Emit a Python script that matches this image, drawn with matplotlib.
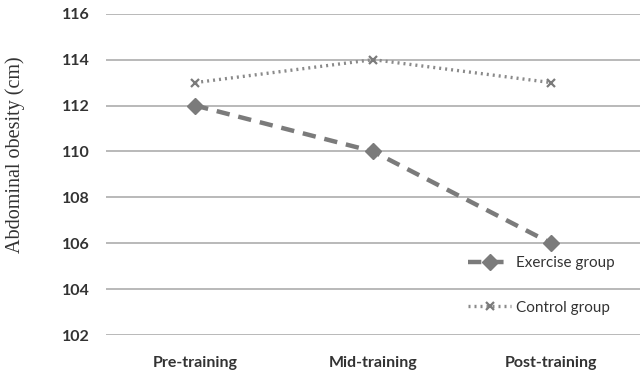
import matplotlib.pyplot as plt

# group means of waist circumference at each stage
stages = ["Pre-training", "Mid-training", "Post-training"]
exercise_group = [112, 110, 106]
control_group = [113, 114, 113]
y_ticks = [102, 104, 106, 108, 110, 112, 114, 116]

fig = plt.figure(figsize=(6.4, 3.82), dpi=100)
ax = fig.add_axes([0.166, 0.123, 0.834, 0.841])

x = range(len(stages))
ax.plot(x, exercise_group, color="#7b7b7b", lw=3.2, ls=(0, (3, 2)),
        marker="D", ms=8, mfc="#7b7b7b", mec="#7b7b7b", label="Exercise group")
ax.plot(x, control_group, color="#8a8a8a", lw=2.4, ls=(0, (0.6, 1.2)),
        marker="x", ms=6, mew=1.6, mec="#7b7b7b", label="Control group")

ax.set_xlim(-0.5, 2.5)
ax.set_ylim(102, 116)
ax.set_yticks(y_ticks)
ax.set_xticks(list(x))
ax.set_xticklabels(stages)
ax.grid(axis="y", color="#a6a6a6", lw=1.1)
ax.set_axisbelow(True)
for s in ax.spines.values():
    s.set_visible(False)
ax.tick_params(axis="y", length=0, pad=12, labelcolor="#333333")
ax.tick_params(axis="x", length=0, pad=15, labelcolor="#333333")
for lab in ax.get_xticklabels() + ax.get_yticklabels():
    lab.set_fontfamily("Lato")
    lab.set_fontweight("bold")
    lab.set_fontsize(11.5)

ax.set_ylabel("Abdominal obesity (cm)", family="Liberation Serif", fontsize=14.5,
              color="#333333")
ax.yaxis.set_label_coords(-0.152, 0.561)

leg = ax.legend(loc="lower right", frameon=False, prop={"family": "Lato", "size": 11},
                labelspacing=2.0, handlelength=2.8, handletextpad=0.35,
                bbox_to_anchor=(0.979, 0.02), labelcolor="#333333")

fig.savefig("out.png", dpi=100, facecolor="white")
